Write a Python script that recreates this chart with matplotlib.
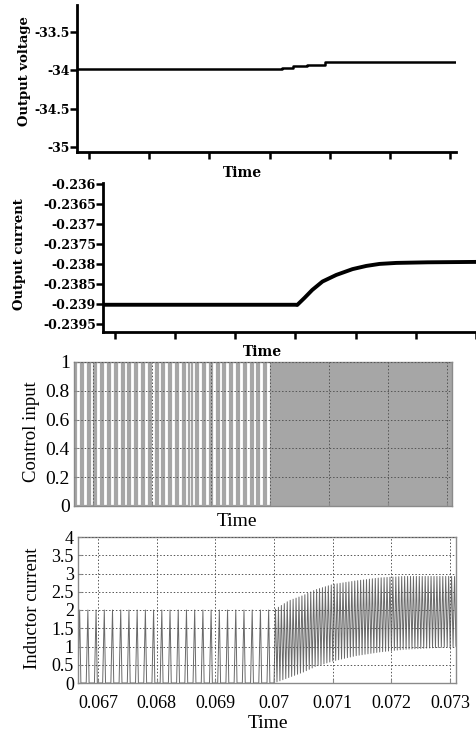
import numpy as np
import matplotlib
matplotlib.use("Agg")
import matplotlib.pyplot as plt

# ---------------- data ----------------
time_ticks = [0.067, 0.068, 0.069, 0.070, 0.071, 0.072, 0.073]
time_ticklabels = ["0.067", "0.068", "0.069", "0.07", "0.071", "0.072", "0.073"]

# Output voltage (stepwise rise after the load change)
volt_t = [0.0668, 0.07021, 0.07039, 0.07062, 0.07092, 0.0731]
volt_v = [-33.98, -33.965, -33.95, -33.93, -33.89, -33.89]
volt_yticks = [-35, -34.5, -34, -33.5]
volt_yticklabels = ["-35", "-34.5", "-34", "-33.5"]

# Output current
curr_t = [0.0668, 0.0700, 0.07003, 0.07015, 0.07028, 0.07045, 0.07068, 0.07095,
          0.07118, 0.07140, 0.07168, 0.0722, 0.07302]
curr_v = [-0.23902, -0.23902, -0.239025, -0.23885, -0.23865, -0.23844, -0.238275,
          -0.23813, -0.23805, -0.23800, -0.237975, -0.23796, -0.23795]
curr_yticks = [-0.2395, -0.239, -0.2385, -0.238, -0.2375, -0.237, -0.2365, -0.236]
curr_yticklabels = ["-0.2395", "-0.239", "-0.2385", "-0.238", "-0.2375",
                    "-0.237", "-0.2365", "-0.236"]

# Control input (PWM): switching period / duty before and after the change
switch_time = 0.0700
ctrl_period = [0.000115, 0.00005]
ctrl_duty = [0.30, 0.50]
ctrl_yticks = [0, 0.2, 0.4, 0.6, 0.8, 1]
ctrl_yticklabels = ["0", "0.2", "0.4", "0.6", "0.8", "1"]

# Inductor current: DCM spikes before, envelope after
il_period = [0.00014, 0.00005]
il_peak_before = 2.0
il_rise_frac = 0.20
il_fall_frac = 0.15
env_t = [0.0700, 0.07025, 0.0705, 0.0707, 0.0710, 0.0714, 0.0718, 0.0722, 0.0731]
env_hi = [2.0, 2.25, 2.4, 2.55, 2.7, 2.8, 2.88, 2.92, 2.92]
env_lo = [0.0, 0.15, 0.3, 0.45, 0.6, 0.75, 0.85, 0.92, 1.0]
il_yticks = [0, 0.5, 1, 1.5, 2, 2.5, 3, 3.5, 4]
il_yticklabels = ["0", "0.5", "1", "1.5", "2", "2.5", "3", "3.5", "4"]

# ---------------- figure ----------------
W, H = 477, 733
fig = plt.figure(figsize=(W / 100, H / 100), dpi=100)


def rect(l, t, r, b):
    return [l / W, 1 - b / H, (r - l) / W, (b - t) / H]


def fpos(x, y):
    return x / W, 1 - y / H


bold_font = dict(family="DejaVu Serif", weight="bold")
serif_font = dict(family="Liberation Serif")

# ---- panel 1 : output voltage ----
ax1 = fig.add_axes(rect(77, 5, 456, 152))
ax1.plot(volt_t, volt_v, color="black", lw=1.8, drawstyle="steps-post")
ax1.set_xlim(0.0668, 0.0731)
ax1.set_ylim(-35.065, -33.15)
ax1.set_xticks(time_ticks)
ax1.set_xticklabels([])
ax1.set_yticks(volt_yticks)
ax1.set_yticklabels(volt_yticklabels, fontsize=9, **bold_font)

# ---- panel 2 : output current ----
ax2 = fig.add_axes(rect(103, 183, 477, 332))
ax2.plot(curr_t, curr_v, color="black", lw=2.8, solid_capstyle="butt")
ax2.set_xlim(0.0668, 0.07302)
ax2.set_ylim(-0.2397, -0.23598)
ax2.set_xticks(time_ticks)
ax2.set_xticklabels([])
ax2.set_yticks(curr_yticks)
ax2.set_yticklabels(curr_yticklabels, fontsize=9, **bold_font)

for ax in (ax1, ax2):
    for s in ("top", "right"):
        ax.spines[s].set_visible(False)
    for s in ("left", "bottom"):
        ax.spines[s].set_linewidth(2)
    ax.tick_params(direction="out", length=5, width=1.8, pad=0)

ax1.set_xlabel("Time", fontsize=10, **bold_font)
ax1.xaxis.set_label_coords(*fpos(242, 173), transform=fig.transFigure)
ax1.xaxis.label.set_va("center")
ax1.set_ylabel("Output voltage", fontsize=9.5, va="center", **bold_font)
ax1.yaxis.set_label_coords(*fpos(25, 71), transform=fig.transFigure)

ax2.set_xlabel("Time", fontsize=10, **bold_font)
ax2.xaxis.set_label_coords(*fpos(262, 352), transform=fig.transFigure)
ax2.xaxis.label.set_va("center")
ax2.set_ylabel("Output current", fontsize=9.5, va="center", **bold_font)
ax2.yaxis.set_label_coords(*fpos(20, 254), transform=fig.transFigure)

# ---- panel 3 : control input ----
ax3 = fig.add_axes(rect(74, 362, 452, 506))
x3min, x3max = 0.06668, 0.07308
ct, cv = [], []
t0 = x3min
while t0 < x3max:
    k = 0 if t0 < switch_time else 1
    T, D = ctrl_period[k], ctrl_duty[k]
    ct += [t0, t0, t0 + D * T, t0 + D * T]
    cv += [0, 1, 1, 0]
    t0 += T
ax3.plot(ct, cv, color="#a6a6a6", lw=1.6)
ax3.set_xlim(x3min, x3max)
ax3.set_ylim(0, 1)
ax3.set_xticks(time_ticks)
ax3.set_xticklabels([])
ax3.set_yticks(ctrl_yticks)
ax3.set_yticklabels(ctrl_yticklabels, fontsize=14, **serif_font)
ax3.set_xlabel("Time", fontsize=14, va="center", **serif_font)
ax3.xaxis.set_label_coords(*fpos(237, 521), transform=fig.transFigure)
ax3.set_ylabel("Control input", fontsize=13.5, va="center", **serif_font)
ax3.yaxis.set_label_coords(*fpos(32, 432), transform=fig.transFigure)

# ---- panel 4 : inductor current ----
ax4 = fig.add_axes(rect(78, 537, 456, 683))
x4min, x4max = 0.06666, 0.0731
it, iv = [], []
t0 = x4min
while t0 < switch_time:
    T = il_period[0]
    it += [t0, t0 + il_rise_frac * T, t0 + (il_rise_frac + il_fall_frac) * T]
    iv += [0, il_peak_before, 0]
    t0 += T
t0 = switch_time
while t0 < x4max:
    T = il_period[1]
    lo = np.interp(t0, env_t, env_lo)
    hi = np.interp(t0 + 0.5 * T, env_t, env_hi)
    it += [t0, t0 + 0.5 * T]
    iv += [lo, hi]
    t0 += T
ax4.plot(it, iv, color="#6a6a6a", lw=0.7)
ax4.set_xlim(x4min, x4max)
ax4.set_ylim(0, 4)
ax4.set_xticks(time_ticks)
ax4.set_xticklabels(time_ticklabels, fontsize=13, **serif_font)
ax4.set_yticks(il_yticks)
ax4.set_yticklabels(il_yticklabels, fontsize=13, **serif_font)
ax4.set_xlabel("Time", fontsize=14, va="center", **serif_font)
ax4.xaxis.set_label_coords(*fpos(268, 723), transform=fig.transFigure)
ax4.set_ylabel("Inductor current", fontsize=13.5, va="center", **serif_font)
ax4.yaxis.set_label_coords(*fpos(33, 608), transform=fig.transFigure)

for ax in (ax3, ax4):
    for s in ax.spines.values():
        s.set_color("#8a8a8a")
        s.set_linewidth(1.0)
    ax.grid(True, color="#555555", linestyle=(0, (1.5, 2)), lw=0.7)
    ax.set_axisbelow(False)
    ax.tick_params(direction="in", length=3, color="#8a8a8a", pad=3)
ax4.tick_params(axis="x", pad=9)

fig.savefig("out.png", dpi=100)
